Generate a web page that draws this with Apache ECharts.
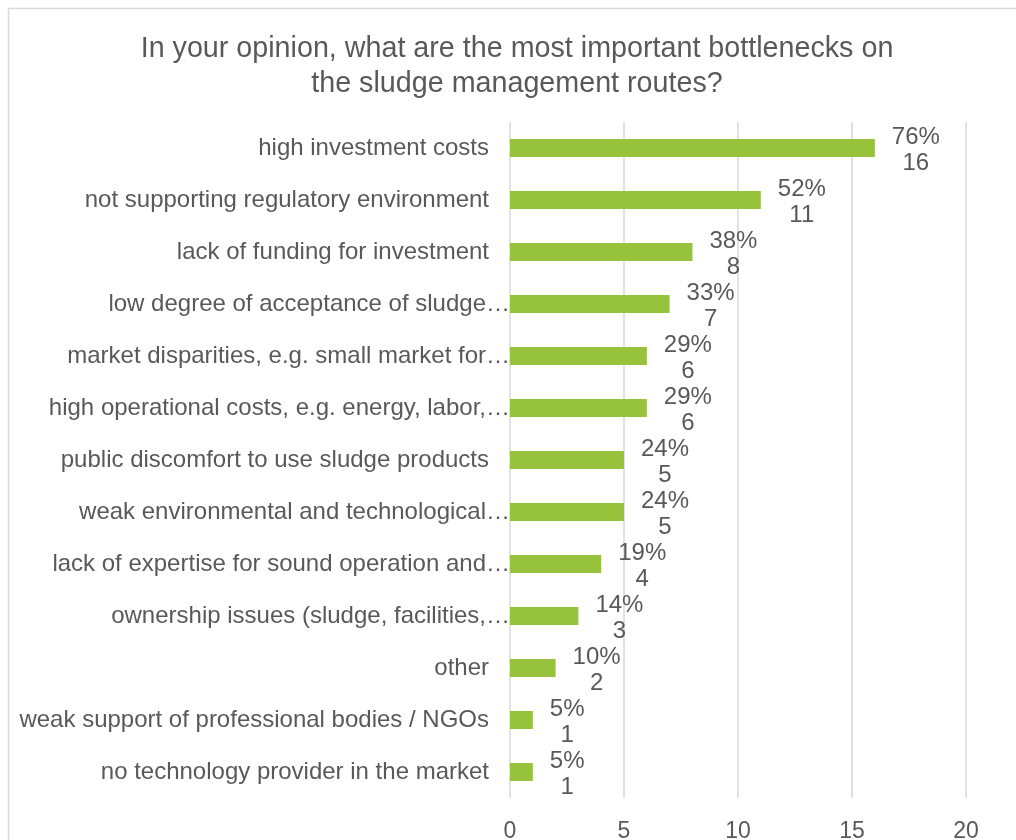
<!DOCTYPE html>
<html>
<head>
<meta charset="utf-8">
<script src="https://cdn.jsdelivr.net/npm/echarts@6/dist/echarts.min.js"></script>
<style>
  html, body { margin: 0; padding: 0; background: #fff; }
  #chart { width: 1016px; height: 840px; }
</style>
</head>
<body>
<div id="chart"></div>
<script>
// Survey answers, listed top to bottom
const categories = [
  'high investment costs',
  'not supporting regulatory environment',
  'lack of funding for investment',
  'low degree of acceptance of sludge…',
  'market disparities, e.g. small market for…',
  'high operational costs, e.g. energy, labor,…',
  'public discomfort to use sludge products',
  'weak environmental and technological…',
  'lack of expertise for sound operation and…',
  'ownership issues (sludge, facilities,…',
  'other',
  'weak support of professional bodies / NGOs',
  'no technology provider in the market'
];
const counts = [16, 11, 8, 7, 6, 6, 5, 5, 4, 3, 2, 1, 1];
const shares = ['76%', '52%', '38%', '33%', '29%', '29%', '24%', '24%', '19%', '14%', '10%', '5%', '5%'];
const xTicks = [0, 5, 10, 15, 20];

const textColor = '#595959';
const font = 'Liberation Sans, Arial, sans-serif';

const chart = echarts.init(document.getElementById('chart'), null, { renderer: 'canvas' });

chart.setOption({
  backgroundColor: '#ffffff',
  animation: false,
  graphic: [{
    type: 'rect',
    x: 0, y: 0,
    shape: { x: 8.5, y: 8.5, width: 1100, height: 900 },
    style: { fill: 'none', stroke: '#d9d9d9', lineWidth: 1.5 },
    silent: true
  }],
  title: {
    text: 'In your opinion, what are the most important bottlenecks on\nthe sludge management routes?',
    left: 512,
    top: 27,
    textAlign: 'center',
    textStyle: {
      fontFamily: font, fontSize: 28.7, fontWeight: 'normal',
      color: textColor, lineHeight: 35
    }
  },
  grid: {
    left: 510, right: 50, top: 122, bottom: 42,
    containLabel: false,
    outerBoundsMode: 'none'
  },
  xAxis: {
    type: 'value',
    min: xTicks[0],
    max: xTicks[xTicks.length - 1],
    interval: 5,
    axisLine: { show: false },
    axisTick: { show: false },
    splitLine: { show: true, lineStyle: { color: '#d9d9d9', width: 1.5 } },
    axisLabel: {
      color: textColor, fontFamily: font, fontSize: 23, margin: 22
    }
  },
  yAxis: {
    type: 'category',
    inverse: true,
    data: categories,
    axisLine: { show: false },
    axisTick: { show: false },
    axisLabel: {
      margin: 0,
      formatter: function (v) {
        return v.endsWith('…') ? '{t|' + v + '}' : '{n|' + v + '}';
      },
      rich: {
        n: { color: textColor, fontFamily: font, fontSize: 24, padding: [0, 21, 0, 0] },
        t: { color: textColor, fontFamily: font, fontSize: 24, padding: [0, 0, 0, 0] }
      }
    }
  },
  series: [{
    type: 'bar',
    data: counts,
    barWidth: 18,
    itemStyle: { color: '#96c23c' },
    label: {
      show: true,
      position: 'right',
      distance: 17,
      offset: [0, 2],
      formatter: function (p) {
        return '{c|' + shares[p.dataIndex] + '}\n{c|' + p.value + '}';
      },
      rich: {
        c: { align: 'center', color: textColor, fontFamily: font, fontSize: 24, lineHeight: 26 }
      }
    }
  }]
});
</script>
</body>
</html>
